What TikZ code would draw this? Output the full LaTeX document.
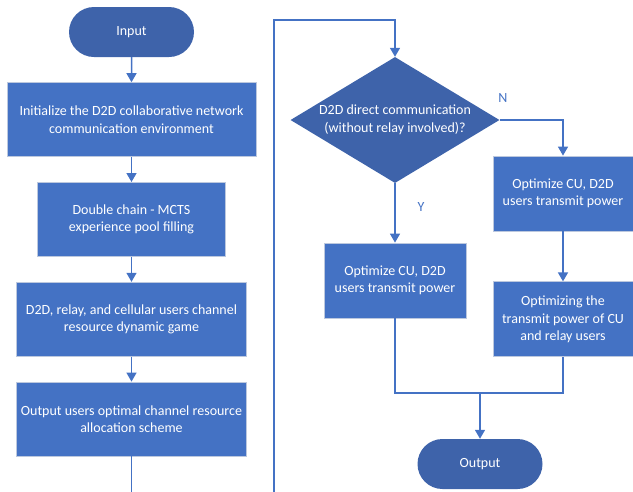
\documentclass[tikz,border=0pt]{standalone}
\usepackage{fontspec}
\setmainfont{Carlito}
\usetikzlibrary{arrows.meta,positioning,shapes.geometric,shapes.misc}
\definecolor{boxblue}{HTML}{4472C4}
\definecolor{darkblue}{HTML}{3E63AA}
\definecolor{edgegray}{HTML}{BCC8DE}

\begin{document}
\begin{tikzpicture}
  [
  x=1pt,y=1pt,
  every node/.style={font=\fontsize{14}{17.5}\selectfont},
  process/.style={rectangle,draw=edgegray,fill=boxblue,text=white,line width=0.8pt,minimum height=74pt,inner sep=2pt,align=center},
  terminal/.style={rounded rectangle,fill=darkblue,text=white,minimum width=125pt,minimum height=50pt,inner sep=0pt,text height=1.6ex,text depth=0.1ex},
  decision/.style={diamond,fill=darkblue,text=white,aspect=1.66,inner sep=0pt,minimum width=209pt,minimum height=126pt,align=center},
  answer/.style={text=boxblue,inner sep=0pt},
  flow/.style={draw=boxblue,line width=1.5pt,-{Triangle[width=10pt,length=9pt]}},
  link/.style={draw=boxblue,line width=1.5pt},
  node distance=25pt
  ]
  \useasboundingbox (0,0) rectangle (633,-491);
  % left column
  \node[terminal] (input) at (131.5,-32) {Input};
  \node[process,minimum width=249pt] (init) [below = of input]
    {Initialize the D2D collaborative network\\communication environment};
  \node[process,minimum width=188pt] (pool) [below = of init]
    {Double chain - MCTS\\experience pool filling};
  \node[process,minimum width=230pt] (game) [below = of pool]
    {D2D, relay, and cellular users channel\\resource dynamic game};
  \node[process,minimum width=230pt] (alloc) [below = of game]
    {Output users optimal channel resource\\allocation scheme};
  \coordinate (leftend) at (alloc.south |- 0,-495);
  % right column
  \coordinate (rightstart) at (274,-495);
  \coordinate (turn) at (274,-20);
  \node[decision] (direct) at (395,-120)
    {D2D direct communication\\(without relay involved)?};
  \node[process,minimum width=142pt,minimum height=75pt] (yespower) at (395,-280.5)
    {Optimize CU, D2D\\users transmit power};
  \node[process,minimum width=140pt,minimum height=75pt] (nopower) at (563,-193.5)
    {Optimize CU, D2D\\users transmit power};
  \node[process,minimum width=140pt,minimum height=75pt] (relaypower) [below = 50pt of nopower]
    {Optimizing the\\transmit power of CU\\and relay users};
  \node[terminal] (output) at (480,-464) {Output};
  \coordinate (merge) at (480,-393);
  \node[answer] (no) at (503,-98) {N};
  \node[answer] (yes) at (421,-207) {Y};

  \draw[flow] (input) -- (init);
  \draw[flow] (init) -- (pool);
  \draw[flow] (pool) -- (game);
  \draw[flow] (game) -- (alloc);
  \draw[link] (alloc) -- (leftend);
  \draw[flow] (rightstart) -- (turn) -| (direct.north);
  \draw[flow] (direct.east) -| (nopower.north);
  \draw[flow] (direct.south) -- (yespower.north);
  \draw[flow] (nopower) -- (relaypower);
  \draw[link] (yespower.south) |- (merge) -| (relaypower.south);
  \draw[flow] (merge) -- (output);
\end{tikzpicture}
\end{document}
